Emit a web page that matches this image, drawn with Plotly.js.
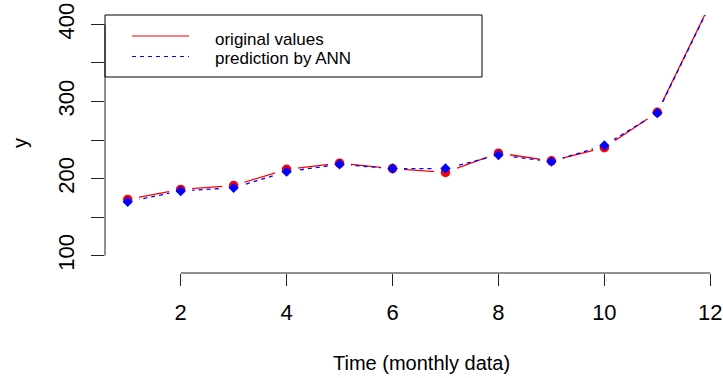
<!DOCTYPE html>
<html>
<head>
<meta charset="utf-8">
<script src="https://cdn.plot.ly/plotly-3.0.1.min.js"></script>
<style>
  html, body { margin: 0; padding: 0; background: #ffffff; }
  #chart { width: 723px; height: 378px; }
</style>
</head>
<body>
<div id="chart"></div>
<script>
// ---- data ----
const months = [1, 2, 3, 4, 5, 6, 7, 8, 9, 10, 11, 12];
const originalValues = [173, 186, 191, 212, 220, 213, 208, 233, 223, 240, 286, 427];
const predictedValues = [170, 184, 188, 209, 218.5, 213, 213, 230.5, 222, 243, 285, 426];
const xTicks = [2, 4, 6, 8, 10, 12];
const yTicks = [100, 150, 200, 250, 300, 350, 400];
const yTickLabels = ['100', '', '200', '', '300', '', '400'];
const seriesNames = ['original values', 'prediction by ANN'];
const xTitle = 'Time (monthly data)';
const yTitle = 'y';

// ---- styling ----
const FONT = 'Liberation Sans, Arial, sans-serif';
const RED = '#FF0000';
const BLUE = '#0000FF';
const AXIS = '#222222';

const traces = [
  { // original values line
    x: months, y: originalValues, type: 'scatter', mode: 'lines',
    line: { color: RED, width: 1.3 }, showlegend: false, hoverinfo: 'skip'
  },
  { // prediction line
    x: months, y: predictedValues, type: 'scatter', mode: 'lines',
    line: { color: BLUE, width: 1.3, dash: '4px,4px' }, showlegend: false, hoverinfo: 'skip'
  },
  { // gaps around points (R type = "b")
    x: months, y: originalValues, type: 'scatter', mode: 'markers',
    marker: { color: '#ffffff', size: 23, symbol: 'circle', line: { width: 0 } },
    showlegend: false, hoverinfo: 'skip'
  },
  {
    x: months, y: predictedValues, type: 'scatter', mode: 'markers',
    marker: { color: '#ffffff', size: 23, symbol: 'circle', line: { width: 0 } },
    showlegend: false, hoverinfo: 'skip'
  },
  { // original points
    x: months, y: originalValues, type: 'scatter', mode: 'markers', name: seriesNames[0],
    marker: { color: RED, size: 9.5, symbol: 'circle', line: { width: 0 } },
    showlegend: false
  },
  { // predicted points
    x: months, y: predictedValues, type: 'scatter', mode: 'markers', name: seriesNames[1],
    marker: { color: BLUE, size: 8, symbol: 'diamond', line: { width: 0 } },
    showlegend: false
  }
];

const W = 723, H = 378;
const M = { l: 105, r: 0, t: 15, b: 105 };
const PW = W - M.l - M.r, PH = H - M.t - M.b;
const px = (p) => (p - M.l) / PW;        // pixel x -> paper
const py = (p) => (H - M.b - p) / PH;    // pixel y -> paper

const layout = {
  width: W, height: H,
  margin: M,
  paper_bgcolor: '#ffffff', plot_bgcolor: '#ffffff',
  font: { family: FONT, color: '#000000' },
  showlegend: false,
  xaxis: {
    range: [0.571, 12.24],
    tickmode: 'array', tickvals: xTicks, ticktext: xTicks.map(String),
    ticks: 'outside', ticklen: 12, tickwidth: 1, tickcolor: AXIS,
    tickfont: { family: FONT, size: 22, color: '#000' },
    ticklabelstandoff: 8,
    showgrid: false, zeroline: false, showline: false, fixedrange: true
  },
  yaxis: {
    range: [77.6, 412.1],
    tickmode: 'array', tickvals: yTicks, ticktext: yTickLabels,
    tickangle: -90,
    ticks: 'outside', ticklen: 13, tickwidth: 1, tickcolor: AXIS,
    tickfont: { family: FONT, size: 22, color: '#000' },
    ticklabelstandoff: 8,
    showgrid: false, zeroline: false, showline: false, fixedrange: true
  },
  shapes: [
    // y axis line spanning the tick range
    { type: 'line', xref: 'paper', yref: 'y', x0: 0, x1: 0,
      y0: Math.min(...yTicks), y1: Math.max(...yTicks), line: { color: AXIS, width: 1 } },
    // x axis line spanning the tick range
    { type: 'line', xref: 'x', yref: 'paper', y0: 0, y1: 0,
      x0: Math.min(...xTicks), x1: Math.max(...xTicks), line: { color: AXIS, width: 1 } },
    // legend box
    { type: 'rect', xref: 'paper', yref: 'paper', x0: 0, x1: px(482), y0: py(77), y1: 1,
      line: { color: '#000', width: 1 }, fillcolor: 'rgba(255,255,255,0)' },
    // legend keys
    { type: 'line', xref: 'paper', yref: 'paper', x0: px(132), x1: px(189), y0: py(36), y1: py(36),
      line: { color: RED, width: 1.2 } },
    { type: 'line', xref: 'paper', yref: 'paper', x0: px(132), x1: px(189), y0: py(56.5), y1: py(56.5),
      line: { color: BLUE, width: 1.2, dash: '4px,4px' } }
  ],
  annotations: [
    { text: seriesNames[0], xref: 'paper', yref: 'paper', x: px(213), y: py(39.5),
      xanchor: 'left', yanchor: 'middle', showarrow: false,
      font: { family: FONT, size: 17, color: '#000' } },
    { text: seriesNames[1], xref: 'paper', yref: 'paper', x: px(213), y: py(59),
      xanchor: 'left', yanchor: 'middle', showarrow: false,
      font: { family: FONT, size: 17, color: '#000' } },
    { text: xTitle, xref: 'paper', yref: 'paper', x: px(421), y: py(363),
      xanchor: 'center', yanchor: 'middle', showarrow: false,
      font: { family: FONT, size: 20, color: '#000' } },
    { text: yTitle, xref: 'paper', yref: 'paper', x: px(20), y: py(143),
      xanchor: 'center', yanchor: 'middle', textangle: -90, showarrow: false,
      font: { family: FONT, size: 20, color: '#000' } }
  ]
};

Plotly.newPlot('chart', traces, layout, { staticPlot: true, displayModeBar: false });
</script>
</body>
</html>
